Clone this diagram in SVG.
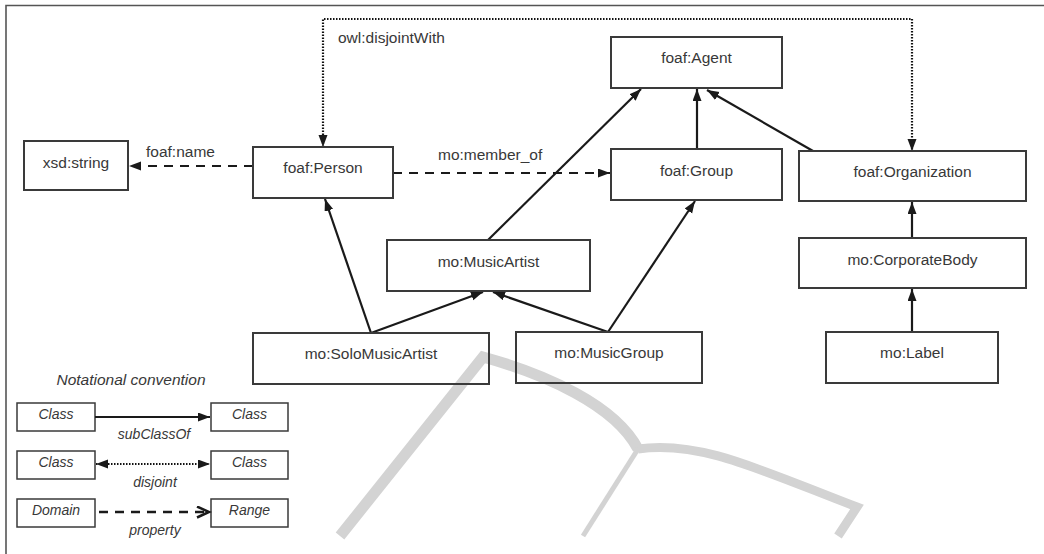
<svg xmlns="http://www.w3.org/2000/svg" width="1044" height="554" viewBox="0 0 1044 554">
<defs>
<style>
.box{fill:none;stroke:#3a3a3a;stroke-width:2}
.lbl{font-family:"Liberation Sans",Arial,sans-serif;font-size:15.5px;fill:#383838;text-anchor:middle}
.elbl{font-family:"Liberation Sans",Arial,sans-serif;font-size:15.5px;fill:#383838}
.it{font-family:"Liberation Sans",Arial,sans-serif;font-style:italic;font-size:14px;fill:#383838;text-anchor:middle}
.solid{fill:none;stroke:#1a1a1a;stroke-width:2.2}
.dash{fill:none;stroke:#1a1a1a;stroke-width:2.2;stroke-dasharray:9 7}
.dot{fill:none;stroke:#111;stroke-width:2.2;stroke-dasharray:1.5 1.5}
.wm{fill:none;stroke:#d3d3d3;stroke-linecap:butt;stroke-linejoin:miter}
</style>
<marker id="ah" markerUnits="userSpaceOnUse" markerWidth="14" markerHeight="10" refX="12" refY="4.5" orient="auto-start-reverse">
<path d="M0,0 L12,4.5 L0,9 z" fill="#1a1a1a"/>
</marker>
<marker id="open" markerUnits="userSpaceOnUse" markerWidth="16" markerHeight="14" refX="13" refY="6" orient="auto">
<path d="M1,0.5 L13,6 L1,11.5" fill="none" stroke="#1a1a1a" stroke-width="2.5"/>
</marker>
</defs>
<rect x="0" y="0" width="1044" height="554" fill="#fff"/>
<g id="watermark">
<path class="wm" d="M340,536 L483,357 C545,374 615,405 638,449" stroke-width="11"/>
<path class="wm" d="M638,449 C700,440 760,470 857,507 L838,536" stroke-width="9"/>
<path class="wm" d="M638,449 L583,536" stroke-width="5"/>
</g>
<path d="M6,554 V5.5 H1044" fill="none" stroke="#555" stroke-width="1.6"/>
<g id="connectors">
<line class="dash" x1="253" y1="166" x2="129" y2="166" marker-end="url(#ah)"/>
<text class="elbl" x="146" y="157">foaf:name</text>
<line class="dash" x1="393" y1="173" x2="610" y2="173" marker-end="url(#ah)"/>
<text class="elbl" x="438" y="160">mo:member_of</text>
<path class="dot" d="M323,147 V19 H912 V151" marker-start="url(#ah)" marker-end="url(#ah)"/>
<text class="elbl" x="338" y="43">owl:disjointWith</text>
<line class="solid" x1="697" y1="149" x2="697" y2="89" marker-end="url(#ah)"/>
<line class="solid" x1="813" y1="151" x2="707" y2="90" marker-end="url(#ah)"/>
<line class="solid" x1="488" y1="240" x2="641" y2="89" marker-end="url(#ah)"/>
<line class="solid" x1="608" y1="332" x2="695" y2="201" marker-end="url(#ah)"/>
<line class="solid" x1="371" y1="333" x2="325" y2="199" marker-end="url(#ah)"/>
<line class="solid" x1="371" y1="333" x2="483" y2="292" marker-end="url(#ah)"/>
<line class="solid" x1="608" y1="332" x2="493" y2="292" marker-end="url(#ah)"/>
<line class="solid" x1="912" y1="238" x2="912" y2="202" marker-end="url(#ah)"/>
<line class="solid" x1="912" y1="332" x2="912" y2="289" marker-end="url(#ah)"/>
</g>
<g id="xsd-string"><rect class="box" x="24" y="141" width="104" height="49"/><text class="lbl" x="76" y="168">xsd:string</text></g>
<g id="foaf-person"><rect class="box" x="253" y="147" width="140" height="51"/><text class="lbl" x="323" y="173">foaf:Person</text></g>
<g id="foaf-agent"><rect class="box" x="611" y="37" width="171" height="51"/><text class="lbl" x="696.5" y="63">foaf:Agent</text></g>
<g id="foaf-group"><rect class="box" x="611" y="149" width="171" height="51"/><text class="lbl" x="696.5" y="176">foaf:Group</text></g>
<g id="foaf-organization"><rect class="box" x="799" y="151" width="227" height="50"/><text class="lbl" x="912.5" y="177">foaf:Organization</text></g>
<g id="mo-corporatebody"><rect class="box" x="799" y="238" width="227" height="50"/><text class="lbl" x="912.5" y="265">mo:CorporateBody</text></g>
<g id="mo-musicartist"><rect class="box" x="387" y="240" width="203" height="51"/><text class="lbl" x="488.5" y="267">mo:MusicArtist</text></g>
<g id="mo-solomusicartist"><rect class="box" x="253" y="333" width="236" height="51"/><text class="lbl" x="371" y="359">mo:SoloMusicArtist</text></g>
<g id="mo-musicgroup"><rect class="box" x="516" y="332" width="186" height="51"/><text class="lbl" x="609" y="358">mo:MusicGroup</text></g>
<g id="mo-label"><rect class="box" x="826" y="332" width="172" height="51"/><text class="lbl" x="912" y="358">mo:Label</text></g>
<g id="legend">
<text class="it" x="131" y="385" style="font-size:15.5px">Notational convention</text>
<rect class="box" x="17" y="403" width="78" height="28" style="stroke-width:1.5"/><text class="it" x="56" y="419">Class</text>
<rect class="box" x="211" y="403" width="77" height="28" style="stroke-width:1.5"/><text class="it" x="249.5" y="419">Class</text>
<line class="solid" x1="95" y1="417" x2="210" y2="417" marker-end="url(#ah)"/>
<text class="it" x="154" y="439">subClassOf</text>
<rect class="box" x="17" y="451" width="78" height="28" style="stroke-width:1.5"/><text class="it" x="56" y="467">Class</text>
<rect class="box" x="211" y="451" width="77" height="28" style="stroke-width:1.5"/><text class="it" x="249.5" y="467">Class</text>
<line class="dot" x1="96" y1="464" x2="210" y2="464" marker-start="url(#ah)" marker-end="url(#ah)"/>
<text class="it" x="155" y="487">disjoint</text>
<rect class="box" x="17" y="499" width="78" height="28" style="stroke-width:1.5"/><text class="it" x="56" y="515">Domain</text>
<rect class="box" x="211" y="499" width="77" height="28" style="stroke-width:1.5"/><text class="it" x="249.5" y="515">Range</text>
<line class="dash" x1="99" y1="512" x2="209" y2="512" marker-end="url(#open)" style="stroke-width:2.5"/>
<text class="it" x="155" y="535">property</text>
</g>
</svg>
